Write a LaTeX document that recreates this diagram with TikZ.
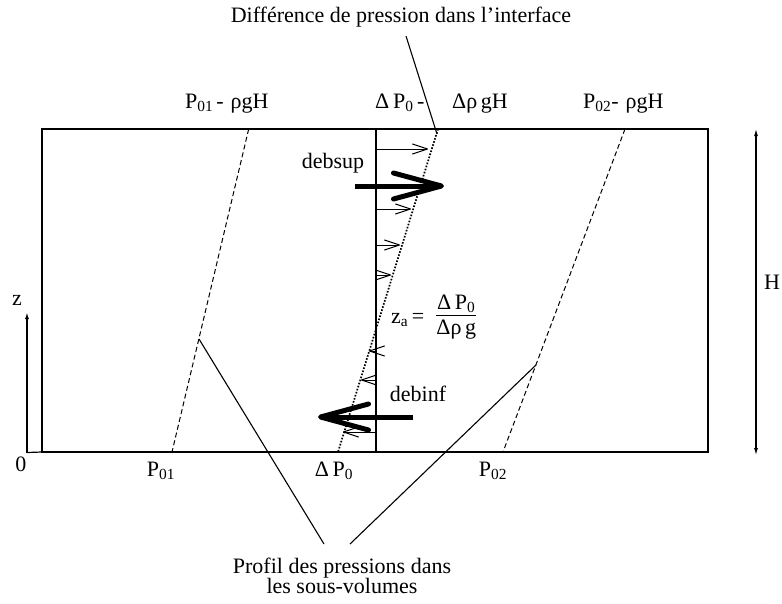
\documentclass[tikz,border=0pt]{standalone}
\usepackage{fontspec}
\setmainfont{Liberation Serif}
\usetikzlibrary{arrows.meta}
\begin{document}
\begin{tikzpicture}[x=1pt,y=-1pt,
  lbl/.style={font=\fontsize{22}{20}\selectfont, inner sep=0pt},
  frame/.style={line width=1.2pt},
  prof/.style={dash pattern=on 5pt off 3pt, line width=1pt},
  iface/.style={dash pattern=on 1.6pt off 1.6pt, line width=1.7pt},
  ptr/.style={line width=1.1pt},
  smallarr/.style={line width=1pt, -{Straight Barb[length=15pt,width=10pt,round]}},
  bigarr/.style={line width=5pt, -{Straight Barb[length=48pt,width=26pt,line width=5pt,round]}},
  axisarr/.style={line width=2.2pt, -{Latex[length=7pt,width=4pt]}},
  harr/.style={line width=1.1pt, {Latex[length=7pt,width=4pt]}-{Latex[length=7pt,width=4pt]}}]
\useasboundingbox (0,0) rectangle (782,603);

% frame
\coordinate (fbl) at (42,452);
\coordinate (ftr) at (708,129);
\draw[frame] (fbl) rectangle (ftr);
\coordinate (z0) at (27,452.5);
\coordinate (ztop) at (27,312);
\draw[frame] (z0) -- (fbl);
\draw[axisarr] (z0) -- (ztop);
\coordinate (ht) at (756,129);
\coordinate (hb) at (756,455);
\draw[harr] (hb) -- (ht);

% interface
\coordinate (it) at (376,129);
\coordinate (ib) at (376,452);
\draw[line width=1.2pt] (it) -- (ib);
\coordinate (dt) at (438,129);
\coordinate (db) at (338,452);
\draw[iface] (dt) -- (db);

% pressure profiles
\coordinate (l1t) at (248.7,129);
\coordinate (l1b) at (172,452);
\draw[prof] (l1t) -- (l1b);
\coordinate (l2t) at (625,129);
\coordinate (l2b) at (503,452);
\draw[prof] (l2t) -- (l2b);

% small arrows
\foreach \y/\t in {149/428, 209/411, 245/400, 275/391}{
  \draw[smallarr] (376,\y) -- (\t,\y);
}
\foreach \y/\t in {351/369, 380/361, 432/343}{
  \draw[smallarr] (376,\y) -- (\t,\y);
}

% big arrows
\coordinate (bs1) at (355,186);
\coordinate (bs2) at (444,186);
\draw[bigarr] (bs1) -- (bs2);
\coordinate (bi1) at (413,417);
\coordinate (bi2) at (318,417);
\draw[bigarr] (bi1) -- (bi2);

% labels
\node[lbl] (title) at (401,17) {Différence de pression dans l'interface};
\coordinate (ct) at (406,36);
\coordinate (cb) at (437,134);
\draw[ptr] (ct) -- (cb);

\node[lbl, anchor=base west] (top1) at (185,108) {P\textsubscript{01}\hspace{3pt}-\hspace{7pt}ρgH};
\node[lbl, anchor=base west] (top2a) at (375,108) {Δ\,P\textsubscript{0}\,-};
\node[lbl, anchor=base west] (top2b) at (452,108) {Δρ\,gH};
\node[lbl, anchor=base west] (top3) at (583,108) {P\textsubscript{02}-\hspace{7pt}ρgH};

\node[lbl] (debsup) at (333,163) {debsup};
\node[lbl] (debinf) at (418,394) {debinf};

\node[lbl, anchor=west] (za) at (391,318) {z\textsubscript{a}\,=\hspace{12pt}\begin{tabular}{@{}c@{}}Δ\,P\textsubscript{0}\\[-1pt]\hline\rule{0pt}{20pt}Δρ\,g\end{tabular}};

\node[lbl] (zl) at (17,300) {z};
\node[lbl] (Hl) at (772,282) {H};
\node[lbl, anchor=base] (o) at (21,471) {0};
\node[lbl, anchor=base] (p01) at (161,476) {P\textsubscript{01}};
\node[lbl, anchor=base] (dp0) at (334,476) {Δ\,P\textsubscript{0}};
\node[lbl, anchor=base] (p02) at (493,476) {P\textsubscript{02}};

\node[lbl, align=center, anchor=base] (prof) at (342,593) {Profil des pressions dans\\les sous-volumes};

% pointers
\coordinate (pl) at (199,339);
\coordinate (pr) at (536,365);
\coordinate (pe1) at (324,544);
\coordinate (pe2) at (350,544);
\draw[ptr] (pl) -- (pe1);
\draw[ptr] (pr) -- (pe2);
\end{tikzpicture}
\end{document}
